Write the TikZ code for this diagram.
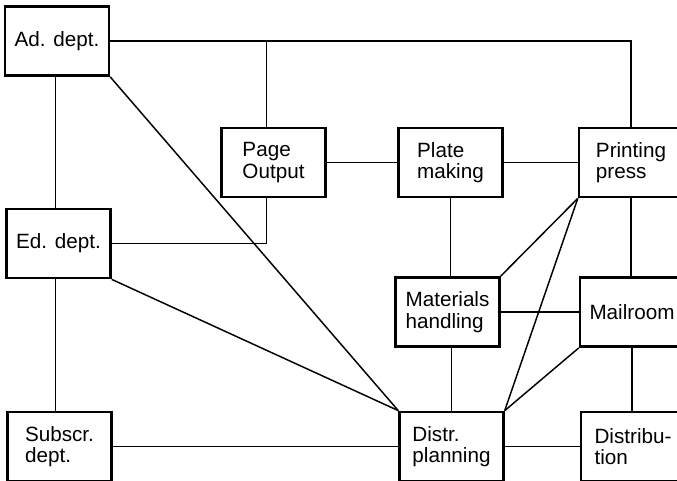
\documentclass[tikz,border=0pt]{standalone}
\usepackage{fontspec}
\setmainfont{Liberation Sans}
\usetikzlibrary{positioning,calc}

\begin{document}
\begin{tikzpicture}[x=0.75pt,y=-0.75pt,
  dept/.style={draw,line width=1.8pt,minimum width=78pt,minimum height=52pt,
               align=left,inner sep=2pt,font=\fontsize{15.5}{16}\selectfont},
  link/.style={line width=0.8pt},
  diag/.style={line width=1.1pt}
]
\useasboundingbox (0,0) rectangle (677,481);
\clip (0,0) rectangle (677,481);
% top row
\node[dept] (ad) at (57,41)      {Ad. dept.};
\node[dept] (po) at (273.5,162.5) {Page\\Output};
\node[dept] (pm) at (450.5,162.5) {Plate\\making};
\node[dept] (pp) at (631,162.5)   {Printing\\press};
% middle rows
\node[dept] (ed) at (58.5,243.5)  {Ed. dept.};
\node[dept] (mh) at (447.5,312)   {Materials\\handling};
\node[dept] (mr) at (632,312)     {Mailroom};
% bottom row
\node[dept] (sd) at (59.5,446.5)  {Subscr.\\dept.};
\node[dept] (dp) at (451.5,446.5) {Distr.\\planning};
\node[dept] (di) at (633,446.5)   {Distribu-\\tion};

\draw[link] (ad.east) -| (pp.north);
\draw[link] ([xshift=-5pt]po.north) -- ([xshift=-5pt]po.north |- ad.east);
\draw[link] ([xshift=-5pt]po.south) |- (ed.east);
\draw[link] (po) -- (pm);
\draw[link] (pm) -- (pp);
\draw[link] ([xshift=-2.5pt]ad.south -| ed.north) -- ([xshift=-2.5pt]ed.north);
\draw[link] ([xshift=-2.5pt]ed.south) -- ([xshift=-2.5pt]ed.south |- sd.north);
% diagonals into distr. planning
\draw[diag] (ad.south east) -- (dp.north west);
\draw[diag] (ed.south east) -- (dp.north west);
\draw[diag] (pp.south west) -- (mh.north east);
\draw[diag] (pp.south west) -- (dp.north east);
\draw[diag] (mr.south west) -- (dp.north east);
\draw[link] (pm.south) -- (pm.south |- mh.north);
\draw[link] (dp.north) -- (dp.north |- mh.south);
\draw[link] (mh) -- (mr);
\draw[link] (pp.south) -- (pp.south |- mr.north);
\draw[link] (mr.south) -- (mr.south |- di.north);
\draw[link] (sd) -- (dp);
\draw[link] (dp) -- (di);
\end{tikzpicture}
\end{document}
